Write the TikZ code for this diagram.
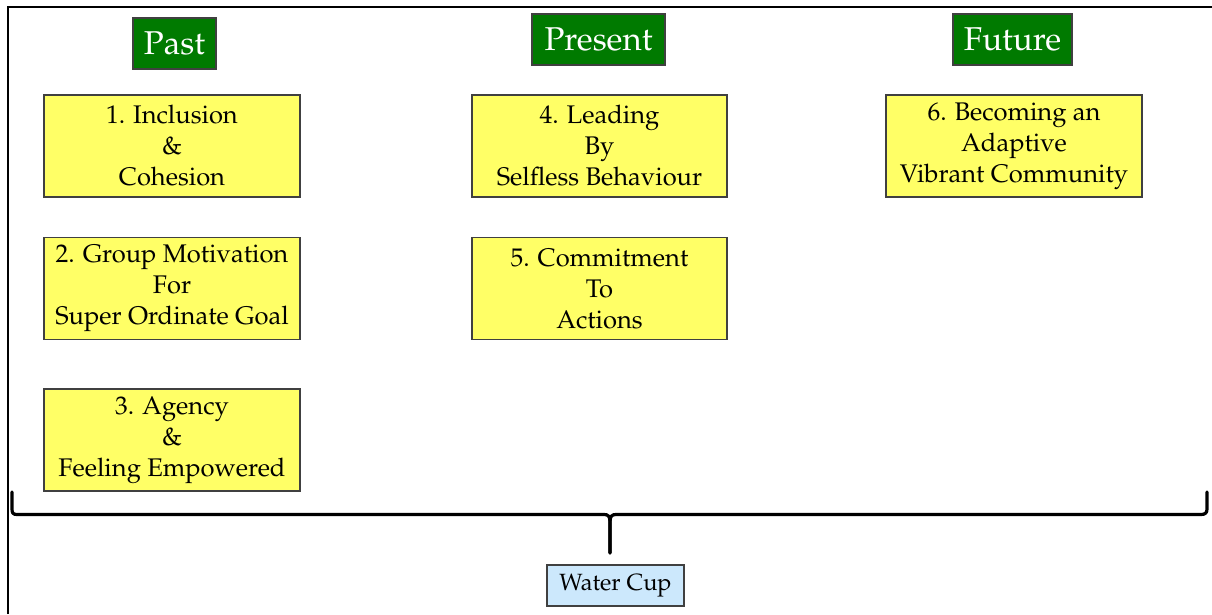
\documentclass[tikz,border=0pt]{standalone}
\usepackage[T1]{fontenc}
\usepackage{mathpazo}
\definecolor{hdrgreen}{RGB}{0,122,0}
\definecolor{boxyellow}{RGB}{255,255,102}
\definecolor{cupblue}{RGB}{204,232,252}
\definecolor{edgegrey}{RGB}{64,64,64}
\tikzset{
  hdr/.style={draw=edgegrey, line width=1.2pt, fill=hdrgreen, text=white, inner sep=0pt,
    minimum height=51pt, font=\fontsize{33}{38}\selectfont},
  item/.style={draw=edgegrey, line width=1.2pt, fill=boxyellow, inner sep=0pt, align=center,
    minimum width=256pt, minimum height=102pt, font=\fontsize{25.5}{31}\selectfont},
  cup/.style={draw=edgegrey, line width=1.2pt, fill=cupblue, inner sep=0pt,
    minimum width=137pt, minimum height=41pt, font=\fontsize{23.5}{27}\selectfont},
  bracket/.style={line width=3.2pt, line cap=round, line join=round},
}
\begin{document}
\begin{tikzpicture}[x=1pt,y=-1pt]
\useasboundingbox (0,0) rectangle (1212,614);
\fill[white] (0,0) rectangle (1212,614);
% frame
\draw[line width=2.4pt] (8,614) -- (8,7) -- (1212,7);
% headers
\node[hdr, minimum width=83pt] (past) at (174.5,43.5) {Past};
\node[hdr, minimum width=133pt] (present) at (598.5,39.5) {Present};
\node[hdr, minimum width=119pt] (future) at (1012.5,39.5) {Future};
% items
\node[item] (i1) at (172,146) {1. Inclusion\\\&\\Cohesion};
\node[item] (i2) at (172,288.5) {2. Group Motivation\\For\\Super Ordinate Goal};
\node[item] (i3) at (172,440) {3. Agency\\\&\\Feeling Empowered};
\node[item, minimum width=255pt] (i4) at (599.5,146) {4. Leading\\By\\Selfless Behaviour};
\node[item, minimum width=255pt] (i5) at (599.5,288.5) {5. Commitment\\To\\Actions};
\node[item] (i6) at (1014,146) {6. Becoming an\\Adaptive\\Vibrant Community};
% brace
\coordinate (bl) at (12,492);
\coordinate (br) at (1207,492);
\coordinate (tip) at (610,553);
\draw[bracket] (bl) -- (12,509) .. controls (12,513) and (13,514.5) .. (17,514.5)
  -- (604,514.5) .. controls (608,514.5) and (610,516) .. (610,522) -- (tip);
\draw[bracket] (tip) -- (610,522) .. controls (610,516) and (612,514.5) .. (616,514.5)
  -- (1201,514.5) .. controls (1205,514.5) and (1207,513) .. (1207,509) -- (br);
% water cup
\node[cup] (cup) at (615.5,585.5) {Water Cup};
\end{tikzpicture}
\end{document}
